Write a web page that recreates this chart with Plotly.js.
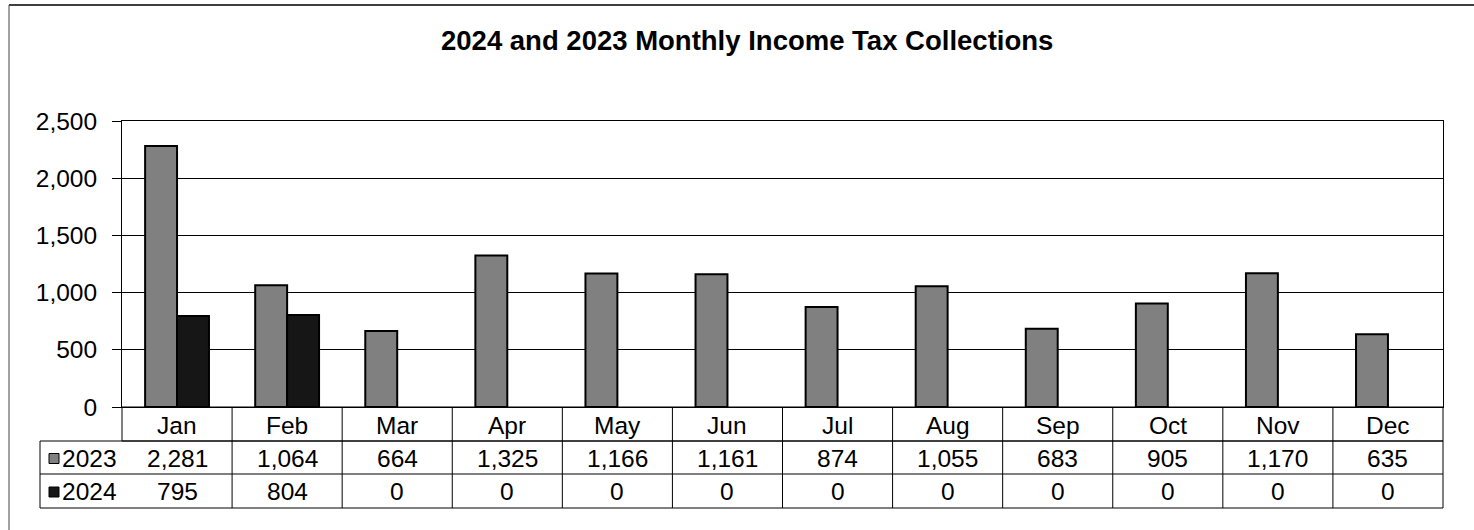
<!DOCTYPE html>
<html>
<head>
<meta charset="utf-8">
<script src="https://cdn.plot.ly/plotly-3.0.1.min.js"></script>
<style>html,body{margin:0;padding:0;background:#fff;}#chart{width:1474px;height:530px;}</style>
</head>
<body>
<div id="chart"></div>
<script>
const months = ["Jan","Feb","Mar","Apr","May","Jun","Jul","Aug","Sep","Oct","Nov","Dec"];
const series2023 = [2281,1064,664,1325,1166,1161,874,1055,683,905,1170,635];
const series2024 = [795,804,0,0,0,0,0,0,0,0,0,0];
const seriesNames = ["2023","2024"];
const seriesColors = ["#808080","#161616"];
const yTicks = [0,500,1000,1500,2000,2500];
const titleText = "2024 and 2023 Monthly Income Tax Collections";

const W = 1474, Hh = 530;
const L = 122, R = 1443, T = 121, B = 407;
const PH = B - T;
const fy = px => (B - px) / PH;          // pixel y -> paper y
const fx = px => (px - L) / (R - L);     // pixel x -> paper x
const rowTops = [407, 441, 474, 508];
const legendLeft = 40;
const font = "Liberation Sans, Arial, sans-serif";
const fs = 24.5;

const traces = [series2023, series2024].map((vals, k) => ({
  type: "bar", x: months.map((m,i)=>i), y: vals.map(v => v === 0 ? null : v), name: seriesNames[k],
  marker: {color: seriesColors[k], line: {color: "#000", width: 2}},
  hoverinfo: "skip"
}));

const shapes = [];
const annotations = [];
const line = {color: "#000", width: 1};
shapes.push({type:"rect", xref:"paper", yref:"paper", x0:0, x1:1, y0:fy(rowTops[1]), y1:fy(rowTops[0]), line});
shapes.push({type:"rect", xref:"paper", yref:"paper", x0:fx(legendLeft), x1:1, y0:fy(rowTops[3]), y1:fy(rowTops[1]), line});
shapes.push({type:"line", xref:"paper", yref:"paper", x0:fx(legendLeft), x1:1, y0:fy(rowTops[2]), y1:fy(rowTops[2]), line});
for (let i = 1; i < months.length; i++) {
  shapes.push({type:"line", xref:"x", yref:"paper", x0:i-0.5, x1:i-0.5, y0:fy(rowTops[3]), y1:fy(rowTops[0]), line});
}
shapes.push({type:"line", xref:"paper", yref:"paper", x0:fx(9), x1:fx(1474), y0:fy(5), y1:fy(5), line:{color:"#000", width:1.5}});
shapes.push({type:"line", xref:"paper", yref:"paper", x0:fx(9), x1:fx(9), y0:fy(5), y1:fy(530), line:{color:"#444", width:1}});

const ann = (o) => annotations.push(Object.assign({showarrow:false, xanchor:"center", yanchor:"middle", font:{family:font, size:fs, color:"#000"}}, o));
months.forEach((m,i)=>ann({xref:"x", yref:"paper", x:i, y:fy((rowTops[0]+rowTops[1])/2 + 1), text:m}));
[series2023, series2024].forEach((vals,k)=>{
  const mid = (rowTops[k+1]+rowTops[k+2])/2;
  const yc = fy(mid + 1);
  vals.forEach((v,i)=>ann({xref:"x", yref:"paper", x:i, y:yc, text:v.toLocaleString("en-US")}));
  shapes.push({type:"rect", xref:"paper", yref:"paper", x0:fx(49), x1:fx(59), y0:fy(mid+6), y1:fy(mid-4), fillcolor:seriesColors[k], line:{color:"#000", width:1}});
  ann({xref:"paper", yref:"paper", x:fx(60), y:yc, xanchor:"left", text:seriesNames[k]});
});
ann({xref:"paper", yref:"paper", x:fx(747), y:fy(40), text:"<b>"+titleText+"</b>", font:{family:font, size:27.5, color:"#000"}});

const layout = {
  width: W, height: Hh,
  margin: {l: L, r: W - R, t: T, b: Hh - B, pad: 0},
  paper_bgcolor: "#fff", plot_bgcolor: "#fff",
  showlegend: false,
  barmode: "group", bargap: 0.42, bargroupgap: 0,
  xaxis: {range: [-0.5, 11.5], showticklabels: false, ticks: "", showgrid: false, zeroline: false,
          showline: true, linecolor: "#000", linewidth: 1, mirror: true, fixedrange: true},
  yaxis: {range: [0, 2500], tickvals: yTicks, ticktext: yTicks.map(v=>v.toLocaleString("en-US")),
          ticks: "outside", ticklen: 9, tickcolor: "#000", tickwidth: 1,
          showgrid: true, gridcolor: "#000", gridwidth: 1, zeroline: false,
          showline: true, linecolor: "#000", linewidth: 1, mirror: true,
          tickfont: {family: font, size: fs, color: "#000"}, ticklabelstandoff: 10, fixedrange: true},
  shapes, annotations
};
Plotly.newPlot("chart", traces, layout, {displayModeBar: false, staticPlot: true});
</script>
</body>
</html>
